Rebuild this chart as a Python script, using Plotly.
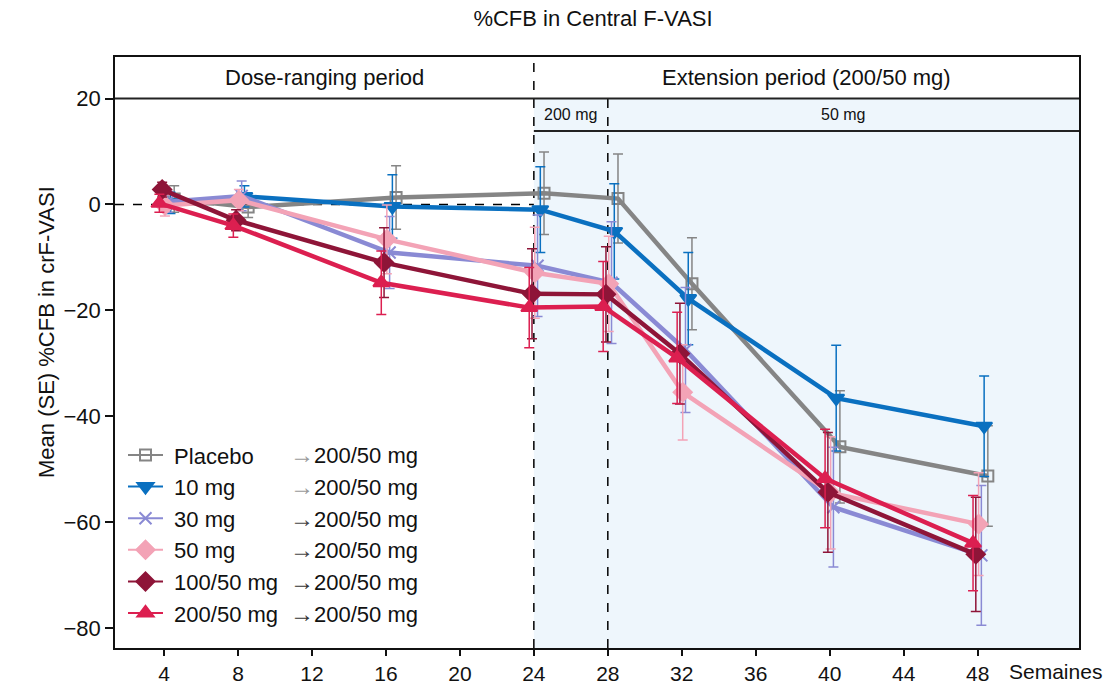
import plotly.graph_objects as go

# ---------------- data ----------------
weeks = [4, 8, 16, 24, 28, 32, 40, 48]
groups = ["Placebo", "10 mg", "30 mg", "50 mg", "100/50 mg", "200/50 mg"]
switch_label = "200/50 mg"

placebo_mean = [1.0, -0.5, 1.3, 2.1, 1.1, -15.0, -45.8, -51.3]
placebo_se = [2.5, 2.0, 6.0, 7.8, 8.4, 8.7, 10.6, 9.5]
mg10_mean = [0.3, 1.5, -0.4, -1.0, -5.1, -17.8, -36.6, -41.9]
mg10_se = [2.0, 2.0, 6.0, 8.1, 9.0, 8.7, 10.0, 9.5]
mg30_mean = [0.5, 1.6, -9.1, -11.6, -14.8, -27.5, -57.2, -66.3]
mg30_se = [2.0, 2.8, 6.8, 9.6, 11.5, 11.8, 11.3, 13.2]
mg50_mean = [-0.2, 0.8, -6.6, -12.9, -15.0, -35.5, -54.5, -60.4]
mg50_se = [2.0, 2.0, 6.5, 8.6, 9.0, 9.0, 10.6, 9.7]
mg100_mean = [2.8, -3.0, -11.0, -16.9, -17.0, -28.2, -54.4, -66.1]
mg100_se = [1.4, 2.0, 6.6, 8.5, 9.0, 9.5, 11.3, 10.8]
mg200_mean = [0.2, -4.0, -14.8, -19.5, -19.3, -29.0, -51.8, -64.0]
mg200_se = [1.7, 2.2, 6.0, 7.6, 8.5, 8.6, 9.3, 9.0]

means = [placebo_mean, mg10_mean, mg30_mean, mg50_mean, mg100_mean, mg200_mean]
ses = [placebo_se, mg10_se, mg30_se, mg50_se, mg100_se, mg200_se]

x_ticks = [4, 8, 12, 16, 20, 24, 28, 32, 36, 40, 44, 48]
y_ticks = [-80, -60, -40, -20, 0, 20]

period_labels = ["Dose-ranging period", "Extension period (200/50 mg)"]
sub_labels = ["200 mg", "50 mg"]
period_breaks = [24, 28]

# ---------------- style ----------------
FONT = "Liberation Sans, Arial, sans-serif"
colors = ["#858585", "#0A70C0", "#8A8AD4", "#F3A3B6", "#8E1538", "#DC1F50"]
arrow_colors = ["#9a9a9a", "#9a9a9a", "#444444", "#444444", "#333333", "#333333"]
symbols = ["square-open", "triangle-down", "x-thin-open", "diamond", "diamond", "triangle-up"]
msizes = [11, 14, 12, 14, 14, 14]
offsets = [0.55, 0.35, 0.2, 0.05, -0.1, -0.25]

X_RANGE = [1.35, 53.48]
Y_RANGE = [-83.8, 27.84]
HEADER_LINE = 20
SUB_LINE = 13.86

W, H = 1120, 686
ML, MR, MT, MB = 115, 41, 57, 38
PW, PH = W - ML - MR, H - MT - MB


def px_x(p):
    return (p - ML) / PW


def px_y(p):
    return (H - MB - p) / PH


fig = go.Figure()

for name, m, s, c, sym, ms, off in zip(groups, means, ses, colors, symbols, msizes, offsets):
    fig.add_trace(go.Scatter(
        x=[w + off for w in weeks], y=m, mode="lines+markers", name=name,
        showlegend=False,
        line=dict(color=c, width=4.5),
        marker=dict(symbol=sym, size=ms, color=c, line=dict(color=c, width=2)),
        error_y=dict(type="data", array=s, visible=True, color=c, thickness=1.5, width=5),
    ))

# legend entries (thin lines like the original key)
for name, c, sym, ms in zip(groups, colors, symbols, msizes):
    fig.add_trace(go.Scatter(
        x=[None], y=[None], mode="lines+markers", name="\u00a0" + name,
        line=dict(color=c, width=2),
        marker=dict(symbol=sym, size=ms, color=c, line=dict(color=c, width=2)),
    ))

# arrow column of the legend
row0, row_step = 455, 31.6
annotations = []
for i, ac in enumerate(arrow_colors):
    annotations.append(dict(
        xref="paper", yref="paper", x=px_x(288), y=px_y(row0 + i * row_step),
        xanchor="left", yanchor="middle", showarrow=False,
        text=f"<span style='font-size:24px;color:{ac}'>\u2192</span>{switch_label}",
        font=dict(family=FONT, size=22, color="#111111"),
    ))

# header labels
annotations += [
    dict(x=(X_RANGE[0] + period_breaks[0]) / 2, y=(HEADER_LINE + Y_RANGE[1]) / 2, xref="x", yref="y",
         text=period_labels[0], showarrow=False, font=dict(family=FONT, size=22, color="#111")),
    dict(x=(period_breaks[0] + X_RANGE[1]) / 2, y=(HEADER_LINE + Y_RANGE[1]) / 2, xref="x", yref="y",
         text=period_labels[1], showarrow=False, font=dict(family=FONT, size=22, color="#111")),
    dict(x=(period_breaks[0] + period_breaks[1]) / 2, y=(HEADER_LINE + SUB_LINE) / 2, xref="x", yref="y",
         text=sub_labels[0], showarrow=False, font=dict(family=FONT, size=16, color="#111")),
    dict(x=(period_breaks[1] + X_RANGE[1]) / 2, y=(HEADER_LINE + SUB_LINE) / 2, xref="x", yref="y",
         text=sub_labels[1], showarrow=False, font=dict(family=FONT, size=16, color="#111")),
    dict(xref="paper", yref="paper", x=px_x(1007), y=px_y(671), xanchor="left", yanchor="middle",
         text="Semaines", showarrow=False, font=dict(family=FONT, size=21, color="#111")),
    dict(xref="paper", yref="paper", x=px_x(46), y=px_y(332), xanchor="center", yanchor="middle",
         text="Mean (SE) %CFB in crF-VASI", textangle=-90, showarrow=False,
         font=dict(family=FONT, size=22, color="#111")),
]

shapes = [
    dict(type="rect", xref="x", yref="y", x0=period_breaks[0], x1=X_RANGE[1], y0=Y_RANGE[0], y1=HEADER_LINE,
         fillcolor="#EEF6FC", line=dict(width=0), layer="below"),
    dict(type="line", xref="paper", yref="y", x0=0, x1=1, y0=0, y1=0,
         line=dict(color="black", width=1.5, dash="dash"), layer="below"),
    dict(type="line", xref="x", yref="y", x0=period_breaks[0], x1=period_breaks[0], y0=Y_RANGE[0], y1=Y_RANGE[1],
         line=dict(color="black", width=1.5, dash="dash"), layer="below"),
    dict(type="line", xref="x", yref="y", x0=period_breaks[1], x1=period_breaks[1], y0=Y_RANGE[0], y1=HEADER_LINE,
         line=dict(color="black", width=1.5, dash="dash"), layer="below"),
    dict(type="line", xref="paper", yref="y", x0=0, x1=1, y0=HEADER_LINE, y1=HEADER_LINE,
         line=dict(color="#222", width=2)),
    dict(type="line", xref="x", yref="y", x0=period_breaks[0], x1=X_RANGE[1], y0=SUB_LINE, y1=SUB_LINE,
         line=dict(color="#222", width=2)),
]

fig.update_layout(
    width=W, height=H,
    margin=dict(l=ML, r=MR, t=MT, b=MB, autoexpand=False),
    paper_bgcolor="white", plot_bgcolor="white",
    font=dict(family=FONT, size=22, color="#111"),
    title=dict(text="%CFB in Central F-VASI", x=593 / W, y=1 - 18 / H, xanchor="center", yanchor="middle",
               font=dict(family=FONT, size=22, color="#111")),
    xaxis=dict(range=X_RANGE, tickvals=x_ticks, ticks="outside", ticklen=6, tickwidth=1.5, tickcolor="#111",
               showline=True, linecolor="#111", linewidth=2, mirror=True, showgrid=False, zeroline=False,
               automargin=False, tickfont=dict(family=FONT, size=21, color="#111")),
    yaxis=dict(range=Y_RANGE, tickvals=y_ticks, ticktext=["\u221280", "\u221260", "\u221240", "\u221220", "0", "20"],
               ticks="outside", ticklen=8, tickwidth=1.5, tickcolor="#111",
               showline=True, linecolor="#111", linewidth=1.5, mirror=True, showgrid=False, zeroline=False,
               automargin=False, tickfont=dict(family=FONT, size=22, color="#111")),
    legend=dict(x=px_x(123), y=px_y(434.2), xanchor="left", yanchor="top", bgcolor="rgba(0,0,0,0)",
                font=dict(family=FONT, size=22, color="#111"), itemwidth=35, tracegroupgap=0,
                traceorder="normal"),
    annotations=annotations,
    shapes=shapes,
)

fig.write_html("out.html")
